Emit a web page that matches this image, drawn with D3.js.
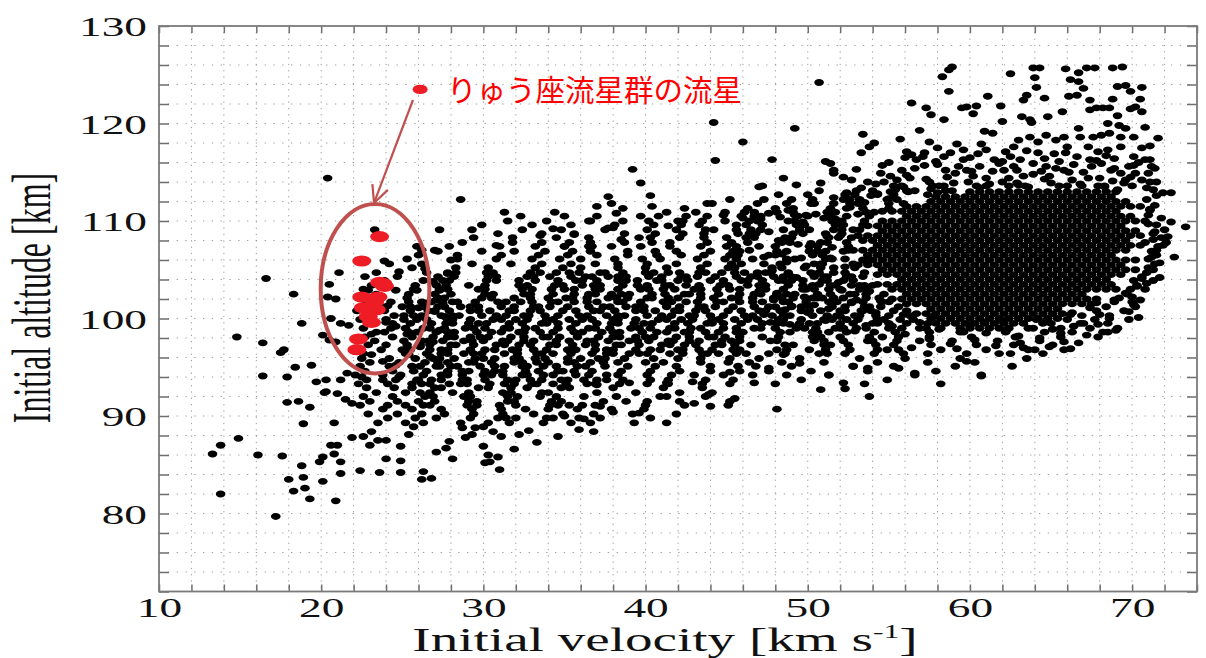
<!DOCTYPE html>
<html><head><meta charset="utf-8">
<script src="https://cdn.jsdelivr.net/npm/d3@7"></script>
<style>body{margin:0;background:#fff}svg{display:block}</style>
</head><body>
<svg id="c" width="1206" height="658"></svg>
<script>
// ---------------- DATA ----------------
const xTickLabels = [10, 20, 30, 40, 50, 60, 70];
const yTickLabels = [80, 90, 100, 110, 120, 130];
const xLabel = "Initial velocity [km s";
const xLabelSup = "-1";
const yLabel = "Initial altitude [km]";
const annotationText = "りゅう座流星群の流星";

// meteors: flat lists of [velocity km/s, altitude km] pairs
const sparseLeftPoints = [13.3,86.1, 13.8,87.0, 13.8,82.0, 14.9,87.7, 14.8,98.1, 16.1,86.0, 17.6,85.9, 16.6,104.1, 16.4,97.5, 17.7,96.8, 17.5,96.5, 18.3,102.5, 18.8,99.5, 18.4,95.0, 19.4,95.2, 17.9,94.0, 16.4,94.1, 19.7,93.5, 20.3,93.7, 21.2,93.7, 20.2,92.4, 21.0,92.3, 20.4,114.4, 21.1,104.7, 20.5,103.5, 20.4,102.2, 20.9,102.0, 20.6,100.0, 21.2,99.5, 21.7,99.3, 20.1,98.3, 20.5,97.8, 20.9,97.6, 21.6,94.4, 17.9,91.4, 18.6,91.5, 19.3,90.9, 18.9,89.2, 20.8,89.3, 20.3,92.5, 21.5,91.7, 21.9,91.3, 20.6,87.0, 21.0,87.0, 20.1,85.8, 20.8,86.1, 19.9,85.3, 21.2,85.3, 18.8,84.9, 18.9,83.7, 18.0,83.5, 20.1,83.3, 21.2,84.1, 19.0,82.6, 18.3,82.3, 17.2,79.7, 19.3,81.5, 20.9,81.3];

const lowerBandPoints = [21.9,87.8, 22.6,87.9, 23.0,87.0, 23.1,88.4, 23.5,87.5, 24.0,87.5, 24.9,86.9, 25.4,88.1, 25.7,88.9, 22.4,84.4, 23.6,84.2, 24.9,84.2, 24.0,85.6, 24.9,85.4, 26.3,84.3, 26.2,83.5, 26.8,83.6, 28.1,85.6, 27.1,86.3, 27.7,86.7, 27.9,87.4, 28.9,87.8, 30.0,86.9, 30.3,86.0, 30.1,85.2, 30.9,85.8, 30.4,85.3, 31.0,84.5, 32.2,88.1, 32.8,88.5, 33.9,89.8, 31.4,89.8, 30.0,88.9, 30.6,88.4, 31.1,87.9, 29.3,88.1, 28.7,88.8, 29.5,88.8, 31.9,86.6, 33.3,87.3, 34.6,87.9, 36.8,88.4, 35.9,88.6, 36.2,89.7, 35.0,90.0, 35.3,91.1, 36.1,91.1, 37.2,91.0, 38.0,90.4, 38.8,91.5, 39.6,90.3, 43.0,91.3, 44.0,91.0, 43.9,92.2, 40.9,92.0, 45.5,91.8, 48.1,90.7, 53.8,92.0, 52.3,92.8, 50.8,92.7, 52.2,93.4, 46.7,93.4];

const midLeftPoints = [24.0,99.6, 23.9,98.6, 23.1,98.4, 25.3,98.4, 25.9,102.9, 26.9,103.8, 27.3,102.9, 25.5,101.2, 26.0,101.1, 26.5,101.6, 27.1,101.9, 27.5,101.6, 26.3,100.2, 27.0,100.7, 27.6,100.2, 25.1,100.3, 24.6,99.2, 27.3,98.8, 26.9,97.6, 26.1,97.1, 25.4,96.3, 26.7,96.1, 24.6,95.2, 23.8,95.6, 23.1,96.3, 22.5,94.0, 23.8,93.7, 24.8,94.0, 25.9,93.7, 27.1,95.1, 22.9,102.9, 24.1,101.3, 24.6,102.9];

const upperPoints = [44.2,120.1, 46.0,118.1, 44.3,116.2, 47.0,113.5, 39.2,115.3, 39.7,113.9, 40.3,112.6, 37.7,112.5, 37.9,111.8, 37.0,111.5, 28.6,112.2, 31.3,110.9, 33.5,108.5, 30.8,107.5, 47.8,116.3, 48.5,114.4, 47.2,113.6, 49.3,113.7, 51.1,116.1, 51.6,115.2, 50.8,113.9, 52.2,114.5, 53.3,117.0, 49.2,119.5, 50.7,124.2, 44.1,111.8,
58.9,125.8, 58.7,125.5, 58.3,124.8, 58.7,123.3, 62.5,125.1, 63.9,125.7, 64.3,125.7, 64.0,124.7, 64.1,123.7, 65.9,125.6, 66.7,125.2, 67.2,125.7, 67.7,125.7, 68.8,125.7, 69.4,125.8, 66.2,124.5, 66.7,124.3, 67.0,123.6, 66.1,122.8, 66.6,122.9, 69.1,123.8, 69.6,123.9, 69.9,123.3, 70.6,123.7, 70.5,122.5, 68.8,122.5, 67.4,122.4, 63.5,122.9, 64.6,122.6, 63.3,122.4, 61.1,122.8, 61.9,121.8, 56.4,122.1, 57.3,121.6, 57.6,120.9, 58.4,120.4, 59.5,121.6, 59.8,121.7, 60.4,121.8, 60.2,121.0, 62.0,120.2, 63.2,120.7, 63.7,120.4, 63.8,120.1, 64.8,120.7, 65.7,121.2, 67.4,121.4, 67.8,121.6, 68.2,121.6, 68.6,121.6, 69.9,121.5, 70.2,121.7, 70.6,121.2, 69.1,120.8, 68.5,120.0, 69.2,119.8, 69.6,119.5, 70.8,119.6, 71.6,118.5, 71.1,117.7, 71.1,116.3, 71.4,115.4, 71.5,114.0, 71.9,112.9, 72.4,112.9, 73.3,109.4, 71.1,111.2, 71.9,107.5,
53.4,118.9, 53.8,117.6, 54.1,118.0, 51.4,115.9, 51.6,114.9, 53.0,115.3, 52.7,114.2, 55.7,118.4, 56.1,117.1, 56.4,116.8, 57.5,118.1, 56.9,119.3, 57.2,117.0, 58.0,117.5, 58.4,116.6, 59.2,117.9, 59.6,117.3, 60.7,117.9, 60.9,119.2, 61.4,119.0, 62.2,117.1, 62.7,117.6, 63.0,118.3, 63.7,118.6, 64.2,118.1, 64.7,118.8, 65.3,118.3, 65.8,118.6, 66.0,117.6, 66.7,119.5, 66.8,118.6, 67.6,118.6, 68.1,118.8, 68.6,119.0, 69.3,118.6, 70.1,118.6, 67.3,117.6, 67.9,117.1, 68.5,117.3, 69.3,117.6, 70.1,116.6, 70.8,116.3, 71.0,114.9, 69.8,115.6, 70.1,115.7, 70.6,114.2, 71.1,114.0, 71.3,113.2, 54.5,114.9, 54.7,114.0, 53.7,114.0, 55.8,115.2, 56.1,114.7, 56.7,116.3, 57.1,116.6, 55.5,114.2, 57.5,114.0, 58.6,114.5, 59.1,114.9, 59.8,115.2, 60.6,115.6, 61.4,115.1, 62.1,115.2, 62.9,115.2, 63.9,115.9, 64.7,115.6, 66.6,116.6, 67.4,116.3, 68.1,115.9, 68.9,116.4, 69.3,114.9, 69.6,114.2, 55.0,116.0, 58.0,115.8, 60.0,116.5, 61.0,114.4, 63.3,114.6, 65.2,116.9, 65.8,115.2, 66.3,114.2, 67.0,115.0, 68.0,114.4, 61.5,116.3, 64.2,117.0, 62.5,116.6, 60.2,114.6, 59.0,113.9, 62.0,114.0, 64.6,114.3, 66.8,113.8, 68.8,114.1, 63.0,113.7,
71.7,105.7, 71.2,106.3, 71.3,108.1, 71.4,108.9, 71.1,111.1, 71.0,110.6, 70.6,104.1, 70.3,103.3, 70.0,102.2, 70.1,101.4, 69.0,98.8, 68.6,100.0, 68.0,100.4, 67.8,101.6, 67.0,99.5, 66.2,100.4, 65.6,98.5, 64.5,99.5, 64.1,99.9, 63.1,97.5, 64.9,97.1, 66.2,96.9, 60.7,94.1, 56.6,94.4, 55.6,94.9, 59.8,95.6, 53.7,94.9, 52.8,95.1, 51.3,94.2, 48.5,96.3, 49.5,95.4, 47.6,94.9, 45.2,94.5, 42.9,93.5, 41.3,93.4, 39.0,93.4, 37.0,93.2,
46.0,110.3, 47.6,110.8, 49.9,110.6, 44.8,110.6, 44.2,109.1, 42.3,110.0, 41.4,109.5, 38.5,108.1, 38.0,109.3, 36.7,107.4, 36.5,110.0, 38.2,110.8, 39.7,110.5, 40.4,111.5, 37.7,109.3, 34.3,109.2, 35.6,108.6, 35.0,107.4, 26.2,107.0, 27.0,107.0, 28.0,106.0, 27.8,104.6, 26.4,105.1, 24.8,104.8, 23.9,105.9, 23.3,109.1];

// edges of the saturated cloud
const topHaloPoints = [54.2,113.8, 55.1,114.6, 55.9,113.5, 56.6,115.4, 57.3,114.3, 57.9,116.1, 58.4,113.6, 59.3,115.6, 59.9,114.0, 60.5,116.9, 61.2,113.8, 61.8,115.9, 62.4,114.4, 63.1,116.3, 63.6,113.5, 64.4,115.1, 65.0,113.9, 65.5,116.1, 66.1,115.0, 66.9,113.6, 67.5,115.6, 68.3,113.5, 68.7,115.2, 69.5,113.9, 70.2,114.9, 70.9,113.4, 71.5,112.6, 56.0,116.5, 58.8,117.0, 61.0,117.3, 63.5,117.2, 65.9,117.0, 68.4,116.7, 70.6,117.5, 55.4,113.2, 57.6,113.3, 60.6,113.4, 62.9,113.9, 64.9,114.6, 67.3,114.4, 69.1,113.2, 53.3,113.4, 52.4,112.9, 53.9,112.6, 55.0,112.3, 56.2,113.0, 58.0,112.9, 57.2,115.7, 59.6,116.3, 62.0,116.1, 64.6,116.4, 66.4,115.8, 68.9,115.4, 70.4,116.0, 54.6,115.7, 60.1,115.1, 63.9,114.8, 67.8,116.2, 69.9,114.5, 71.2,115.6, 65.3,115.4, 62.7,115.6, 58.5,115.2, 56.3,114.4];
const bottomHaloPoints = [55.2,99.2, 56.0,98.4, 56.9,99.6, 57.5,97.9, 58.1,98.9, 58.8,97.4, 59.6,98.6, 60.3,97.8, 61.0,98.5, 61.6,97.2, 62.3,98.9, 63.0,98.2, 63.6,99.0, 64.3,98.0, 65.1,98.9, 65.8,97.6, 66.4,99.2, 67.2,98.3, 67.9,99.4, 68.5,98.6, 56.4,97.0, 59.2,96.9, 61.8,96.4, 64.0,96.8, 66.7,97.5, 57.8,100.2, 60.9,99.6, 62.0,99.8, 64.7,99.7, 66.3,100.6, 67.4,101.1, 68.9,101.9, 69.6,102.6, 54.6,98.1, 53.6,99.3, 55.9,100.4, 63.3,97.0, 60.0,99.3];
const leftHaloPoints = [49.0,101.3, 49.7,103.0, 50.3,104.6, 50.9,102.1, 51.4,106.2, 51.9,103.7, 52.3,105.3, 52.7,101.6, 53.2,103.4, 48.7,105.8, 49.4,107.6, 50.1,109.1, 50.6,106.9, 51.2,108.4, 51.7,110.2, 52.2,109.6, 52.6,111.4, 53.1,110.7, 49.2,110.6, 50.4,111.8, 51.6,112.4, 48.9,99.4, 50.0,100.6, 51.1,99.8, 52.0,100.2, 53.0,101.9, 53.8,102.8, 52.5,107.0, 53.6,105.9, 51.0,104.3, 49.9,105.4, 48.2,103.9, 47.6,108.9, 48.3,110.4, 47.9,101.9, 46.9,104.7, 47.3,106.3, 52.9,98.7, 54.2,100.6, 54.5,101.8,
47.3,100.4, 48.1,102.6, 48.6,100.9, 49.3,104.2, 49.8,102.2, 50.4,101.4, 50.7,103.5, 51.3,101.0, 51.6,105.2, 52.1,102.9, 52.4,104.4, 53.4,100.8, 47.8,104.9, 48.4,106.6, 49.0,108.3, 49.6,106.2, 50.2,107.7, 50.8,105.6, 51.0,110.3, 51.5,107.3, 52.0,108.5, 52.3,106.1, 52.8,109.1, 48.2,108.0, 48.8,111.1, 49.7,109.9, 50.5,110.7, 47.0,102.8, 46.4,107.0, 47.1,110.2, 53.5,111.9, 54.3,112.8, 53.2,112.2, 55.1,113.0, 47.7,99.6, 49.4,99.2, 50.6,98.6, 52.2,99.0, 53.7,97.7, 54.9,96.8];
const rightHaloPoints = [70.9,112.2, 71.4,111.6, 71.0,109.7, 71.8,110.3, 70.8,107.8, 71.5,107.0, 72.2,108.4, 71.3,105.0, 70.9,103.6, 71.7,104.2, 70.5,101.9, 69.8,100.7, 70.4,100.1, 72.4,109.9, 72.6,106.3];

// scattered band, listed by altitude row: [altitude, velocity, velocity, ...]
const bandRowsLow = [
[89.3, 23.5,25.2,26.3,28.6,30.3,31.6,33.7,35.4,36.6,39.3,41.3],
[89.8, 24.1,25.8,27.1,29.2,30.9,32.0,34.3,35.9,37.2,40.3],
[90.2, 22.9,24.7,26.2,27.6,29.4,31.2,33.1,34.9,36.8,39.2,41.9],
[90.7, 23.8,25.6,27.4,29.3,31.1,32.6,34.0,35.8,37.9,39.9],
[91.1, 22.4,24.1,25.2,26.3,26.7,29.0,29.6,31.0,32.0,34.1,34.6,36.9,40.0,42.4,45.1],
[91.5, 23.0,24.7,26.0,27.0,29.1,29.6,31.5,31.9,34.2,34.8,37.4,40.1,42.1,45.2],
[92.0, 22.6,24.4,26.4,26.9,28.8,29.2,31.5,32.1,33.5,34.5,36.2,38.2,41.3,43.7],
[92.4, 23.4,25.2,26.1,26.7,28.1,29.1,31.2,31.7,33.6,34.0,37.0,39.4,42.1,44.1],
[92.9, 22.8,24.5,25.6,27.0,27.4,29.7,30.3,31.7,32.7,34.8,35.3,38.0,41.1,43.5],
[93.3, 22.3,24.1,25.6,26.2,26.7,27.9,28.6,29.0,30.4,31.3,31.9,33.0,33.3,34.3,35.1,36.4,36.9,38.4,40.1,41.4,43.5,45.2,48.0,53.5,58.2],
[93.7, 22.8,24.6,26.0,26.8,27.4,28.7,29.0,30.1,31.5,32.0,32.9,33.6,34.8,35.2,36.2,37.0,37.6,38.6,40.3,41.4,43.7,45.4,49.6,54.9],
[94.2, 22.1,23.8,24.9,26.3,27.4,27.8,28.7,30.0,30.5,31.2,32.4,32.7,33.7,34.3,35.7,36.5,37.6,38.3,40.1,41.6,43.0,44.8,46.6,48.7,51.3,56.6,60.7],
[94.6, 22.7,24.4,25.7,26.5,27.8,28.7,29.1,30.1,30.7,31.2,32.6,33.4,34.6,34.9,35.6,36.7,38.5,40.3,42.1,44.0,45.8,47.6,50.2,53.7,57.9],
[95.1, 22.4,24.2,25.6,26.1,27.3,28.0,28.4,29.8,30.7,31.3,32.4,32.7,33.7,34.5,35.8,36.3,37.5,38.9,40.6,41.9,44.0,45.7,46.8,49.0,52.8,55.3,59.1,62.6],
[95.5, 23.0,24.8,26.4,27.2,27.8,29.1,29.4,30.5,31.9,32.4,33.3,34.0,35.2,35.6,36.6,37.4,38.3,40.0,41.1,43.4,45.1,46.4,48.4,51.0,54.3,57.4,60.3],
[95.9, 22.5,24.2,25.8,26.9,27.3,28.2,29.5,30.0,30.7,31.9,32.2,33.2,33.8,35.2,36.0,37.1,37.5,38.7,40.5,42.0,43.4,45.2,47.0,49.5,53.2,56.0,59.4,63.5],
[96.4, 22.6,25.2,26.5,27.4,27.8,28.8,29.4,29.9,31.3,32.1,33.3,33.6,34.3,35.4,36.7,37.6,38.0,39.0,39.6,40.1,41.5,42.3,43.5,43.8,44.5,45.6,46.2,47.6,48.6,50.7,51.2,52.3,54.1,55.9,57.4,59.8,62.5,64.5],
[96.8, 23.7,25.0,25.5,26.7,27.4,27.8,29.2,30.1,30.7,31.8,32.1,33.1,33.9,35.2,35.7,36.9,37.6,38.0,39.4,40.3,40.9,42.0,42.3,43.3,44.1,45.4,45.8,48.1,48.7,50.1,51.1,52.6,54.3,55.6,58.2,61.0,63.6,65.8],
[97.3, 22.9,24.0,25.3,26.1,26.7,28.0,28.3,29.4,30.8,31.3,32.2,32.9,34.1,34.5,35.5,36.3,36.9,38.2,38.5,39.6,41.0,41.5,42.4,43.1,44.3,44.7,45.5,46.5,48.6,49.1,51.0,51.4,52.5,54.2,55.3,57.6,60.4,62.7,65.1],
[97.7, 23.3,25.1,26.2,26.6,27.5,28.8,29.3,30.0,31.2,31.5,32.5,33.1,34.5,35.3,36.4,36.8,37.7,39.0,39.5,40.2,41.4,41.7,42.7,43.3,44.7,45.3,45.8,47.7,48.1,50.4,51.0,52.2,54.0,55.5,56.9,58.9,61.7,64.3],
[98.1, 22.7,24.4,25.6,26.9,27.8,28.2,29.2,29.8,30.3,31.7,32.5,33.7,34.0,34.7,35.8,37.1,38.0,38.4,39.4,40.0,40.5,41.9,42.7,43.9,44.2,44.9,45.8,47.2,48.2,50.3,50.8,52.0,53.8,55.6,57.5,60.1,62.8,65.6,67.9],
[98.6, 23.4,25.4,25.9,27.1,27.8,28.2,29.6,30.5,31.1,32.2,32.5,33.5,34.3,35.6,36.1,37.3,38.0,38.4,39.8,40.7,41.3,42.4,42.7,43.7,44.5,45.6,46.0,48.3,48.9,50.3,51.3,52.4,54.1,55.4,57.5,59.4,62.2,64.6,66.3,68.2]
];
const bandRowsMid = [
[99.0, 22.6,24.3,25.2,26.3,26.7,27.6,28.9,29.4,30.1,31.3,31.6,32.6,33.2,34.6,35.4,36.5,36.9,37.8,39.1,39.6,40.3,41.5,41.8,42.8,43.4,44.8,45.6,46.7,47.1,48.0,49.3,49.8,50.5,51.7,52.0,53.0,53.6,55.0,55.8,56.9,57.3,58.2,63.9,65.6,67.4,69.1],
[99.5, 23.1,24.4,25.5,26.8,27.7,28.1,29.1,29.7,30.2,31.6,32.4,33.6,33.9,34.6,35.7,37.0,37.9,38.3,39.3,39.9,40.4,41.8,42.6,43.8,44.1,44.8,45.9,47.2,48.1,48.5,49.5,50.1,50.6,52.0,52.8,54.0,54.3,55.0,56.1,57.4,65.0,66.8,68.5],
[99.9, 22.4,24.0,25.1,25.9,26.5,27.8,28.1,29.2,30.6,31.1,32.0,32.7,33.9,34.3,35.3,36.1,36.7,38.0,38.3,39.4,40.8,41.3,42.2,42.9,44.1,44.5,45.5,46.3,46.9,48.2,48.5,49.6,51.0,51.5,52.4,53.1,54.3,54.7,55.7,56.5,66.0,67.7,69.8],
[100.3, 22.9,24.5,25.7,26.2,27.4,28.1,28.5,29.9,30.8,31.4,32.5,32.8,33.8,34.6,35.9,36.4,37.6,38.3,38.7,40.1,41.0,41.6,42.7,43.0,44.0,44.8,46.1,46.6,47.8,48.5,48.9,50.3,51.2,51.8,52.9,53.2,54.2,55.0,56.3,66.9,68.6],
[100.8, 22.2,23.9,25.5,26.6,27.0,27.9,29.2,29.7,30.4,31.6,31.9,32.9,33.5,34.9,35.7,36.8,37.2,38.1,39.4,39.9,40.6,41.8,42.1,43.1,43.7,45.1,45.9,47.0,47.4,48.3,49.6,50.1,50.8,52.0,52.3,53.3,53.9,55.3,56.1,67.8,69.5],
[101.2, 22.5,23.7,25.0,26.3,27.2,27.6,28.6,29.2,29.7,31.1,31.9,33.1,33.4,34.1,35.2,36.5,37.4,37.8,38.8,39.4,39.9,41.3,42.1,43.3,43.6,44.3,45.4,46.7,47.6,48.0,49.0,49.6,50.1,51.5,52.3,53.5,53.8,54.5,55.6,68.4,70.2],
[101.7, 22.8,24.3,25.4,26.2,26.8,28.1,28.4,29.5,30.9,31.4,32.3,33.0,34.2,34.6,35.6,36.4,37.0,38.3,38.6,39.7,41.1,41.6,42.5,43.2,44.4,44.8,45.8,46.6,47.2,48.5,48.8,49.9,51.3,51.8,52.7,53.4,54.6,55.0,68.9,70.0],
[102.1, 22.9,25.3,27.2,27.6,29.9,30.5,31.9,32.9,34.0,35.1,35.5,36.4,37.7,38.2,38.9,40.1,40.4,41.4,42.0,43.4,44.2,45.3,45.7,46.6,47.9,48.4,49.1,50.3,50.6,51.6,52.2,53.6,54.4,69.2],
[102.5, 23.4,25.4,27.0,28.0,30.1,30.6,32.5,32.9,34.3,35.6,36.5,36.9,37.9,38.5,39.0,40.4,41.2,42.4,42.7,43.4,44.5,45.8,46.7,47.1,48.1,48.7,49.2,50.6,51.4,52.6,52.9,53.6,54.7,69.7],
[103.0, 22.6,25.7,27.3,27.8,29.7,30.1,32.4,33.0,34.2,35.0,35.6,36.9,37.2,38.3,39.7,40.2,41.1,41.8,43.0,43.4,44.4,45.2,45.8,47.1,47.4,48.5,49.9,50.4,51.3,52.0,53.2,53.6,69.9,70.8],
[103.4, 23.1,25.8,27.1,27.7,29.1,30.1,32.2,32.7,34.4,34.9,36.1,36.8,37.2,38.6,39.5,40.1,41.2,41.5,42.5,43.3,44.6,45.1,46.3,47.0,47.4,48.8,49.7,50.3,51.4,51.7,52.7,53.5,54.0,70.3],
[103.9, 23.9,26.3,27.5,27.9,30.2,30.8,32.2,33.2,34.6,35.7,36.1,37.0,38.3,38.8,39.5,40.7,41.0,42.0,42.6,44.0,44.8,45.9,46.3,47.2,48.5,49.0,49.7,50.9,51.2,52.2,52.8,70.1,71.3],
[104.3, 22.7,24.7,27.2,28.2,30.3,30.8,32.7,33.1,34.1,35.4,36.3,36.7,37.7,38.3,38.8,40.2,41.0,42.2,42.5,43.2,44.3,45.6,46.5,46.9,47.9,48.5,49.0,50.4,51.2,52.4,52.7,53.4,70.6],
[104.7, 23.4,26.5,27.8,28.3,30.2,30.6,32.9,33.5,34.5,35.3,35.9,37.2,37.5,38.6,40.0,40.5,41.4,42.1,43.3,43.7,44.7,45.5,46.1,47.4,47.7,48.8,50.2,50.7,51.6,52.3,53.5,70.9]
];
const bandRowsHigh = [
[105.2, 25.6,28.3,30.3,33.2,34.9,36.0,38.3,40.0,41.3,43.4,45.1,45.5,47.8,48.4,49.8,50.8,52.9,71.0],
[105.6, 24.2,26.2,29.3,31.7,33.6,35.4,36.9,38.3,40.1,41.9,43.8,45.3,45.9,47.3,48.3,50.4,50.9,52.8,71.4],
[106.1, 25.3,28.4,30.8,33.0,34.7,36.0,38.1,39.8,40.9,43.2,44.9,45.6,46.6,48.7,49.2,51.1,51.5,71.0],
[106.5, 26.0,28.4,31.1,33.4,35.2,37.0,38.9,40.7,42.2,43.6,45.2,45.7,47.6,48.0,50.3,50.9,71.5],
[106.9, 27.2,29.9,31.9,33.8,35.5,36.6,38.9,40.6,41.9,44.0,45.4,45.8,48.1,48.7,50.1,51.1,52.2,71.2],
[107.4, 25.9,27.9,31.0,33.2,35.0,36.5,37.9,39.7,41.5,43.4,45.0,45.6,47.0,48.0,50.1,50.6,52.5,71.6],
[107.8, 28.7,31.8,33.6,35.3,36.6,38.7,40.4,41.5,43.8,45.3,46.3,48.4,48.9,50.8,51.2,52.4,72.1],
[108.3, 29.4,31.8,34.5,36.5,39.6,40.3,42.1,43.6,45.0,46.2,46.7,48.6,49.0,51.3,51.9,52.7,71.8],
[108.7, 30.9,33.6,35.6,38.7,40.6,42.3,43.6,45.7,46.4,46.8,49.1,49.7,51.1,52.1,71.3],
[109.1, 27.3,29.3,32.4,34.8,37.5,40.1,41.9,43.7,45.6,46.5,47.1,48.5,49.5,51.6,52.1,53.2,72.0],
[109.6, 29.9,33.0,35.4,38.1,40.5,42.2,43.3,45.6,46.2,47.2,49.3,49.8,51.7,52.1,53.4,71.5],
[110.0, 31.5,33.9,36.6,38.6,40.2,42.0,43.5,44.9,46.4,46.9,48.8,49.2,51.5,52.1,53.5],
[110.5, 32.3,35.0,37.0,40.8,42.5,43.8,45.9,46.7,47.1,49.4,50.0,51.4,52.4,53.8],
[110.9, 34.4,41.3,43.1,44.9,46.1,46.7,48.1,49.1,51.2,51.7,53.6,54.1],
[111.3, 38.6,42.4,46.3,48.0,49.1,51.4,52.4,53.4,55.0],
[111.8, 43.8,46.9,48.7,50.2,51.6,52.6,53.1,55.0,55.9],
[112.2, 45.2,47.3,49.0,50.3,52.2,52.6,54.9,55.5],
[112.7, 48.2,50.0,52.3,52.9,54.3,55.3,57.4],
[113.1, 50.7,53.0,54.0,56.1,56.6,58.5,58.9],
[113.6, 55.3,55.8,57.7,58.1,60.4,61.0,62.4,63.4,65.5,66.0,67.9,68.3,70.0]
];

// saturated core, listed by altitude row: [altitude, velocity, velocity, ...]
const coreRows = [
[113.0, 60.0,60.6,61.2,61.8,62.4,63.0,63.6,64.2,64.8,65.4,66.0,66.6,67.2,67.8,68.4,69.0],
[112.5, 57.9,58.5,59.1,59.7,60.3,60.9,61.5,62.1,62.7,63.3,63.9,64.5,65.1,65.7,66.3,66.9,67.5,68.1,68.7],
[112.0, 57.6,58.2,58.8,59.4,60.0,60.6,61.2,61.8,62.4,63.0,63.6,64.2,64.8,65.4,66.0,66.6,67.2,67.8,68.4,69.0,69.6],
[111.5, 56.1,56.7,57.3,57.9,58.5,59.1,59.7,60.3,60.9,61.5,62.1,62.7,63.3,63.9,64.5,65.1,65.7,66.3,66.9,67.5,68.1,68.7,69.3,69.9,70.5],
[111.0, 54.6,55.2,55.8,56.4,57.0,57.6,58.2,58.8,59.4,60.0,60.6,61.2,61.8,62.4,63.0,63.6,64.2,64.8,65.4,66.0,66.6,67.2,67.8,68.4,69.0],
[110.5, 56.1,56.7,57.3,57.9,58.5,59.1,59.7,60.3,60.9,61.5,62.1,62.7,63.3,63.9,64.5,65.1,65.7,66.3,66.9,67.5,68.1,68.7,69.3,69.9],
[110.0, 54.6,55.2,55.8,56.4,57.0,57.6,58.2,58.8,59.4,60.0,60.6,61.2,61.8,62.4,63.0,63.6,64.2,64.8,65.4,66.0,66.6,67.2,67.8,68.4,69.0,69.6,70.2,70.8],
[109.5, 53.7,54.3,54.9,55.5,56.1,56.7,57.3,57.9,58.5,59.1,59.7,60.3,60.9,61.5,62.1,62.7,63.3,63.9,64.5,65.1,65.7,66.3,66.9,67.5,68.1,68.7,69.3],
[109.0, 54.6,55.2,55.8,56.4,57.0,57.6,58.2,58.8,59.4,60.0,60.6,61.2,61.8,62.4,63.0,63.6,64.2,64.8,65.4,66.0,66.6,67.2,67.8,68.4,69.0,69.6,70.2],
[108.5, 53.1,53.7,54.3,54.9,55.5,56.1,56.7,57.3,57.9,58.5,59.1,59.7,60.3,60.9,61.5,62.1,62.7,63.3,63.9,64.5,65.1,65.7,66.3,66.9,67.5,68.1,68.7,69.3,69.9,70.5],
[108.0, 53.4,54.0,54.6,55.2,55.8,56.4,57.0,57.6,58.2,58.8,59.4,60.0,60.6,61.2,61.8,62.4,63.0,63.6,64.2,64.8,65.4,66.0,66.6,67.2,67.8,68.4,69.0,69.6],
[107.5, 54.3,54.9,55.5,56.1,56.7,57.3,57.9,58.5,59.1,59.7,60.3,60.9,61.5,62.1,62.7,63.3,63.9,64.5,65.1,65.7,66.3,66.9,67.5,68.1,68.7,69.3,69.9,70.5],
[107.0, 52.8,53.4,54.0,54.6,55.2,55.8,56.4,57.0,57.6,58.2,58.8,59.4,60.0,60.6,61.2,61.8,62.4,63.0,63.6,64.2,64.8,65.4,66.0,66.6,67.2,67.8,68.4,69.0,69.6],
[106.5, 53.7,54.3,54.9,55.5,56.1,56.7,57.3,57.9,58.5,59.1,59.7,60.3,60.9,61.5,62.1,62.7,63.3,63.9,64.5,65.1,65.7,66.3,66.9,67.5,68.1,68.7],
[106.0, 53.4,54.0,54.6,55.2,55.8,56.4,57.0,57.6,58.2,58.8,59.4,60.0,60.6,61.2,61.8,62.4,63.0,63.6,64.2,64.8,65.4,66.0,66.6,67.2,67.8,68.4,69.0,69.6,70.2],
[105.5, 53.1,53.7,54.3,54.9,55.5,56.1,56.7,57.3,57.9,58.5,59.1,59.7,60.3,60.9,61.5,62.1,62.7,63.3,63.9,64.5,65.1,65.7,66.3,66.9,67.5,68.1,68.7,69.3],
[105.0, 54.6,55.2,55.8,56.4,57.0,57.6,58.2,58.8,59.4,60.0,60.6,61.2,61.8,62.4,63.0,63.6,64.2,64.8,65.4,66.0,66.6,67.2,67.8,68.4,69.0,69.6,70.2],
[104.5, 54.3,54.9,55.5,56.1,56.7,57.3,57.9,58.5,59.1,59.7,60.3,60.9,61.5,62.1,62.7,63.3,63.9,64.5,65.1,65.7,66.3,66.9,67.5,68.1,68.7,69.3],
[104.0, 55.8,56.4,57.0,57.6,58.2,58.8,59.4,60.0,60.6,61.2,61.8,62.4,63.0,63.6,64.2,64.8,65.4,66.0,66.6,67.2,67.8,68.4],
[103.5, 54.3,54.9,55.5,56.1,56.7,57.3,57.9,58.5,59.1,59.7,60.3,60.9,61.5,62.1,62.7,63.3,63.9,64.5,65.1,65.7,66.3,66.9,67.5,68.1,68.7],
[103.0, 55.2,55.8,56.4,57.0,57.6,58.2,58.8,59.4,60.0,60.6,61.2,61.8,62.4,63.0,63.6,64.2,64.8,65.4,66.0,66.6,67.2,67.8,68.4,69.0],
[102.5, 56.1,56.7,57.3,57.9,58.5,59.1,59.7,60.3,60.9,61.5,62.1,62.7,63.3,63.9,64.5,65.1,65.7,66.3,66.9],
[102.0, 55.2,55.8,56.4,57.0,57.6,58.2,58.8,59.4,60.0,60.6,61.2,61.8,62.4,63.0,63.6,64.2,64.8,65.4,66.0,66.6,67.2,67.8],
[101.5, 56.1,56.7,57.3,57.9,58.5,59.1,59.7,60.3,60.9,61.5,62.1,62.7,63.3,63.9,64.5,65.1,65.7,66.3,66.9,67.5],
[101.0, 57.6,58.2,58.8,59.4,60.0,60.6,61.2,61.8,62.4,63.0,63.6,64.2,64.8,65.4],
[100.5, 56.7,57.3,57.9,58.5,59.1,59.7,60.3,60.9,61.5,62.1,62.7,63.3,63.9,64.5,65.1,65.7],
[100.0, 57.6,58.2,58.8,59.4,60.0,60.6,61.2,61.8,62.4,63.0,63.6,64.2,64.8,65.4],
[99.5, 57.9,58.5,59.1,59.7,60.3,60.9,61.5,62.1,62.7,63.3],
[99.0, 59.4,60.0,60.6,61.2,61.8,62.4]
];

// Draconid meteors (red)
const draconidPoints = [23.6,108.4, 22.5,105.9, 23.6,103.7, 23.9,103.3, 23.8,103.6, 22.5,102.2, 23.5,102.2, 22.6,101.1, 23.4,100.9, 23.3,101.7, 22.9,100.2, 23.1,99.6, 22.3,97.9, 22.2,96.8];

// ---------------- LAYOUT ----------------
const L = 159, R = 1197, T = 26, B = 591.5;
const x = d3.scaleLinear().domain([10, 74]).range([L, R]);
const y = d3.scaleLinear().domain([72, 130]).range([B, T]);
const serif = "'Liberation Serif','Times New Roman',Times,serif";
const SX = 1.62; // horizontal stretch of the original figure's lettering

const pairs = a => { const o = []; for (let i = 0; i < a.length; i += 2) o.push([a[i], a[i + 1]]); return o; };
const fromRows = rows => { const o = []; rows.forEach(r => { for (let i = 1; i < r.length; i++) o.push([r[i], r[0]]); }); return o; };

const blackPts = [].concat(pairs(sparseLeftPoints), pairs(lowerBandPoints), pairs(midLeftPoints),
  fromRows(bandRowsLow), fromRows(bandRowsMid), fromRows(bandRowsHigh), fromRows(coreRows),
  pairs(topHaloPoints), pairs(bottomHaloPoints), pairs(leftHaloPoints), pairs(rightHaloPoints), pairs(upperPoints));
const redPts = pairs(draconidPoints);

const svg = d3.select("#c");
svg.append("rect").attr("width", 1206).attr("height", 658).attr("fill", "#fff");

// grid
const gridX = d3.range(12, 74, 2), gridY = d3.range(74, 130, 2);
svg.append("g").selectAll("line").data(gridX).join("line")
  .attr("x1", d => x(d)).attr("x2", d => x(d)).attr("y1", T).attr("y2", B)
  .attr("stroke", "#9c9c9c").attr("stroke-width", 1).attr("stroke-dasharray", "1.3,5");
svg.append("g").selectAll("line").data(gridY).join("line")
  .attr("y1", d => y(d)).attr("y2", d => y(d)).attr("x1", L).attr("x2", R)
  .attr("stroke", "#9c9c9c").attr("stroke-width", 1).attr("stroke-dasharray", "1.3,7.5");

// points
svg.append("g").selectAll("ellipse").data(blackPts).join("ellipse")
  .attr("cx", d => x(d[0])).attr("cy", d => y(d[1])).attr("rx", 4.8).attr("ry", 3.45).attr("fill", "#000");
svg.append("g").selectAll("ellipse").data(redPts).join("ellipse")
  .attr("cx", d => x(d[0])).attr("cy", d => y(d[1])).attr("rx", 9.5).attr("ry", 5.6).attr("fill", "#ee1c25");

// axes (ticks inward on all sides)
const xt = d3.range(10, 75, 2), yt = d3.range(72, 131, 2);
const gb = svg.append("g").attr("transform", `translate(0,${B})`)
  .call(d3.axisBottom(x).tickValues(xt).tickSizeInner(-7).tickSizeOuter(0).tickFormat(d => xTickLabels.includes(d) ? d : ""));
const gt = svg.append("g").attr("transform", `translate(0,${T})`)
  .call(d3.axisTop(x).tickValues(xt).tickSizeInner(-7).tickSizeOuter(0).tickFormat(""));
const gl = svg.append("g").attr("transform", `translate(${L},0)`)
  .call(d3.axisLeft(y).tickValues(yt).tickSizeInner(-10).tickSizeOuter(0).tickFormat(d => yTickLabels.includes(d) ? d : ""));
const gr = svg.append("g").attr("transform", `translate(${R},0)`)
  .call(d3.axisRight(y).tickValues(yt).tickSizeInner(-10).tickSizeOuter(0).tickFormat(""));
[gb, gt, gl, gr].forEach(g => {
  g.select(".domain").remove();
  g.selectAll(".tick line").attr("stroke", "#6e6e6e").attr("stroke-width", 1.5);
  g.attr("font-family", serif).attr("font-size", 28);
  g.selectAll("text").attr("fill", "#111");
});
gb.selectAll("text").attr("y", 25).attr("dy", null).attr("transform", `scale(${SX},1)`);
gl.selectAll("text").attr("x", 0).attr("dy", "0.35em").attr("transform", `translate(-12,0) scale(${SX},1)`);

// frame
svg.append("rect").attr("x", L).attr("y", T).attr("width", R - L).attr("height", B - T)
  .attr("fill", "none").attr("stroke", "#7a7a7a").attr("stroke-width", 1.8);

// axis titles
const xt_ = svg.append("text").attr("transform", `translate(665,651) scale(1.67,1)`)
  .attr("text-anchor", "middle").attr("font-family", serif).attr("font-size", 33).attr("fill", "#111");
xt_.append("tspan").text(xLabel);
xt_.append("tspan").attr("font-size", 19).attr("dy", -13).text(xLabelSup);
xt_.append("tspan").attr("dy", 13).text("]");
svg.append("text").attr("transform", `translate(50,298) rotate(-90) scale(1,1.72)`)
  .attr("text-anchor", "middle").attr("font-family", serif).attr("font-size", 32).attr("fill", "#111")
  .text(yLabel);

// annotation: ellipse around the Draconids, arrow, legend dot and label
const ann = svg.append("g");
const ec = [23.32, 103.06], erv = 3.35, erh = 8.69;
ann.append("ellipse").attr("cx", x(ec[0])).attr("cy", y(ec[1]))
  .attr("rx", x(ec[0] + erv) - x(ec[0])).attr("ry", y(ec[1] - erh) - y(ec[1]))
  .attr("fill", "none").attr("stroke", "#c0504d").attr("stroke-width", 4);
const a0 = [x(25.66), y(122.41)], a1 = [x(23.26), y(111.85)];
ann.append("line").attr("x1", a0[0]).attr("y1", a0[1]).attr("x2", a1[0]).attr("y2", a1[1])
  .attr("stroke", "#c0504d").attr("stroke-width", 2.2);
const ang = Math.atan2(a1[1] - a0[1], a1[0] - a0[0]), hl = 19, ha = 0.45;
const hp = s => [a1[0] - hl * Math.cos(ang + s * ha), a1[1] - hl * Math.sin(ang + s * ha)];
ann.append("path").attr("d", d3.line()([hp(1), a1, hp(-1)]))
  .attr("fill", "none").attr("stroke", "#c0504d").attr("stroke-width", 2.2);
ann.append("ellipse").attr("cx", x(26.1)).attr("cy", y(123.5)).attr("rx", 7.5).attr("ry", 4.6).attr("fill", "#ee1c25");
ann.append("text").attr("x", x(27.75)).attr("y", y(123.6)).attr("dominant-baseline", "central")
  .attr("font-family", "'Noto Sans CJK JP','Noto Sans CJK SC',sans-serif").attr("font-size", 29.5)
  .attr("fill", "#ff0000").text(annotationText);
</script>
</body></html>
